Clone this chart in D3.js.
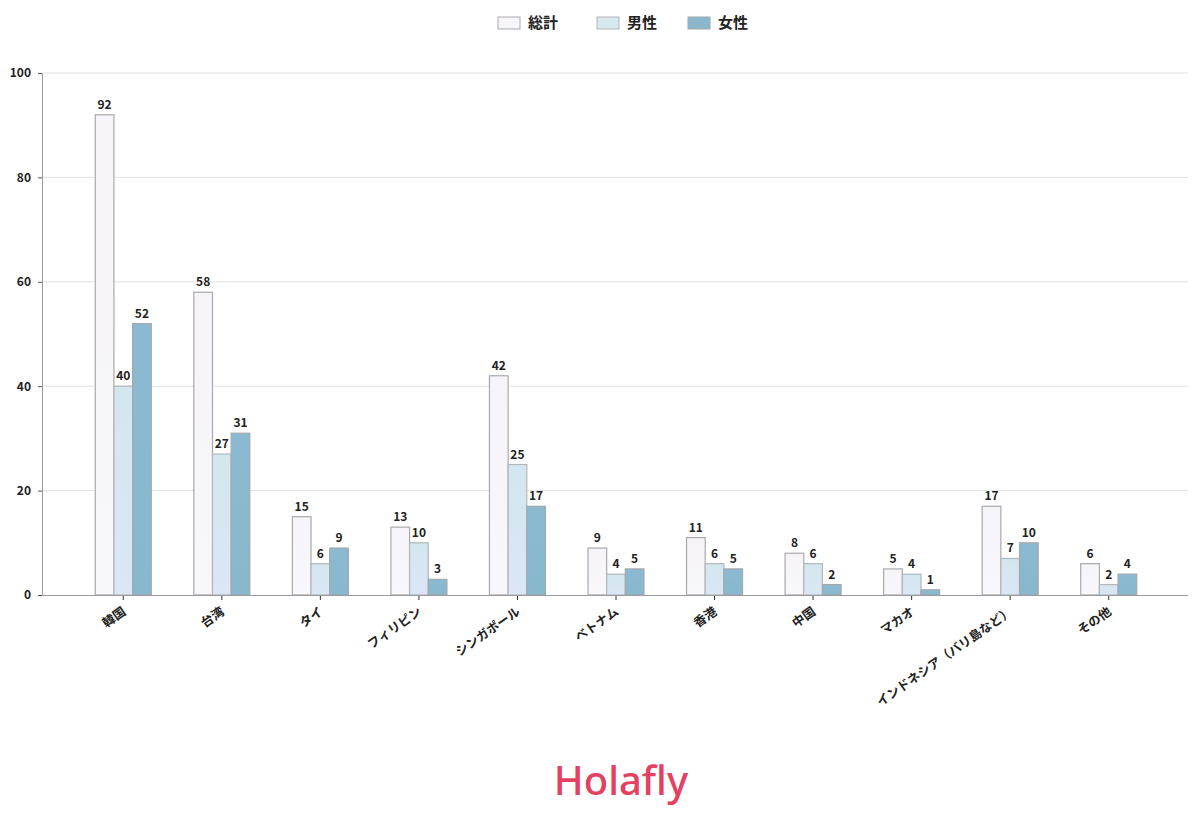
<!DOCTYPE html>
<html>
<head>
<meta charset="utf-8">
<script src="https://cdn.jsdelivr.net/npm/d3@7"></script>
<style>
  body { margin: 0; background: #fff; }
  text { font-family: "Noto Sans CJK JP", "Noto Sans", sans-serif; }
</style>
</head>
<body>
<script>
var categories = ["韓国", "台湾", "タイ", "フィリピン", "シンガポール", "ベトナム", "香港", "中国", "マカオ", "インドネシア（バリ島など）", "その他"];
var seriesNames = ["総計", "男性", "女性"];
var totalValues = [92, 58, 15, 13, 42, 9, 11, 8, 5, 17, 6];
var maleValues = [40, 27, 6, 10, 25, 4, 6, 6, 4, 7, 2];
var femaleValues = [52, 31, 9, 3, 17, 5, 5, 2, 1, 10, 4];
var yTicks = [0, 20, 40, 60, 80, 100];

var width = 1200, height = 828;
var svg = d3.select("body").append("svg")
    .attr("width", width)
    .attr("height", height);

// gradients for bars
var defs = svg.append("defs");
var g1 = defs.append("linearGradient").attr("id", "gTotal").attr("x1", 0).attr("y1", 0).attr("x2", 0).attr("y2", 1);
g1.append("stop").attr("offset", "0%").attr("stop-color", "#f6f4f8");
g1.append("stop").attr("offset", "100%").attr("stop-color", "#f8f7fb");
var g2 = defs.append("linearGradient").attr("id", "gMale").attr("x1", 0).attr("y1", 0).attr("x2", 0).attr("y2", 1);
g2.append("stop").attr("offset", "0%").attr("stop-color", "#d3e7ee");
g2.append("stop").attr("offset", "100%").attr("stop-color", "#dbe6f6");
var g3 = defs.append("linearGradient").attr("id", "gFemale").attr("x1", 0).attr("y1", 0).attr("x2", 0).attr("y2", 1);
g3.append("stop").attr("offset", "0%").attr("stop-color", "#8bb9d2");
g3.append("stop").attr("offset", "100%").attr("stop-color", "#87b8cb");

var fills = ["url(#gTotal)", "url(#gMale)", "url(#gFemale)"];
var legendFills = ["#f7f5f9", "#d7e8ee", "#89b8cd"];
var strokes = ["#a9a9ad", "#b4b6ba", "#a3a9ad"];

var y = d3.scaleLinear().domain([0, 100]).range([595, 73]);
var x = d3.scaleBand().domain(categories).range([74, 1158]).padding(0);
var inner = d3.scaleBand().domain(seriesNames).range([-28, 28]);

// grid
svg.append("g").selectAll("line").data(yTicks.slice(1)).enter().append("line")
    .attr("x1", 42).attr("x2", 1188)
    .attr("y1", d => y(d)).attr("y2", d => y(d))
    .attr("stroke", "#e2e2e6").attr("stroke-width", 1);

// y axis
var yAxis = svg.append("g").attr("transform", "translate(42,0)")
    .call(d3.axisLeft(y).tickValues(yTicks).tickSize(4).tickSizeOuter(0));
yAxis.select(".domain").attr("stroke", "#9a9aa0");
yAxis.selectAll(".tick line").attr("stroke", "#555");
yAxis.selectAll(".tick text")
    .attr("x", -11)
    .attr("fill", "#222")
    .style("font-size", "12px")
    .style("font-weight", "bold");

// bars
var series = [totalValues, maleValues, femaleValues];
series.forEach(function (vals, si) {
    var g = svg.append("g");
    g.selectAll("rect").data(vals).enter().append("rect")
        .attr("x", (d, i) => x(categories[i]) + x.bandwidth() / 2 + inner(seriesNames[si]))
        .attr("width", inner.bandwidth())
        .attr("y", d => y(d))
        .attr("height", d => y(0) - y(d))
        .attr("fill", fills[si])
        .attr("stroke", strokes[si])
        .attr("stroke-width", 1.2);
    g.selectAll("text").data(vals).enter().append("text")
        .attr("x", (d, i) => x(categories[i]) + x.bandwidth() / 2 + inner(seriesNames[si]) + inner.bandwidth() / 2)
        .attr("y", d => y(d) - 6)
        .attr("text-anchor", "middle")
        .attr("fill", "#222")
        .style("font-size", "12px")
        .style("font-weight", "bold")
        .text(d => d);
});

// x axis
svg.append("line")
    .attr("x1", 42).attr("x2", 1188)
    .attr("y1", 595.5).attr("y2", 595.5)
    .attr("stroke", "#9a9aa0").attr("stroke-width", 1.2);
var xg = svg.append("g");
xg.selectAll("line").data(categories).enter().append("line")
    .attr("x1", d => x(d) + x.bandwidth() / 2).attr("x2", d => x(d) + x.bandwidth() / 2)
    .attr("y1", 596).attr("y2", 600)
    .attr("stroke", "#333");
xg.selectAll("text").data(categories).enter().append("text")
    .attr("transform", d => "translate(" + (x(d) + x.bandwidth() / 2 + 1) + ",610) rotate(-35)")
    .attr("text-anchor", "end")
    .attr("dy", "0.35em")
    .attr("fill", "#222")
    .style("font-size", "12.5px")
    .style("font-weight", "bold")
    .text(d => d);

// legend
var legendX = [498, 597, 688];
var lg = svg.append("g");
seriesNames.forEach(function (name, i) {
    lg.append("rect")
        .attr("x", legendX[i]).attr("y", 17)
        .attr("width", 22).attr("height", 12)
        .attr("fill", legendFills[i])
        .attr("stroke", strokes[i]).attr("stroke-width", 1);
    lg.append("text")
        .attr("x", legendX[i] + 30).attr("y", 23)
        .attr("dy", "0.35em")
        .attr("fill", "#222")
        .style("font-size", "15px")
        .style("font-weight", "bold")
        .text(name);
});

// logo
svg.append("text")
    .attr("x", 621).attr("y", 795)
    .attr("text-anchor", "middle")
    .attr("fill", "#e4405f")
    .style("font-family", "'Noto Sans', sans-serif")
    .style("font-size", "40px")
    .style("font-weight", "500")
    .text("Holafly");
</script>
</body>
</html>
